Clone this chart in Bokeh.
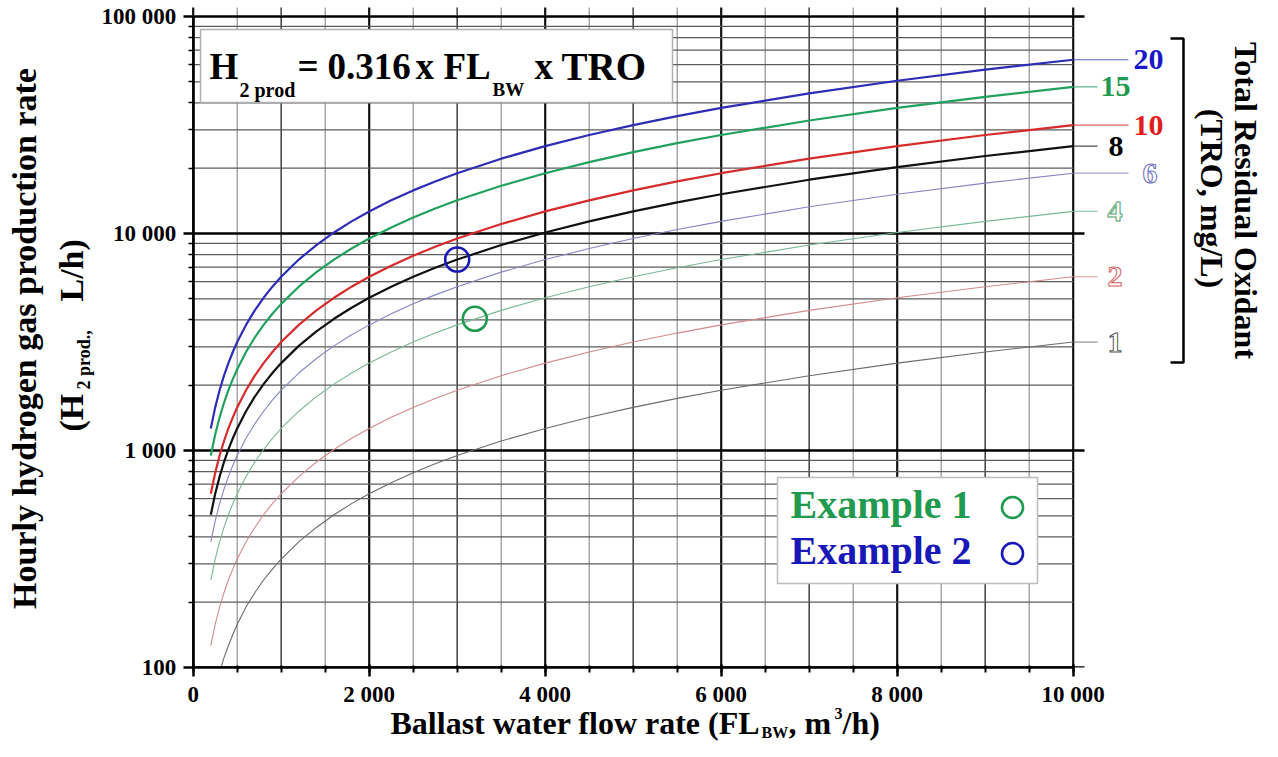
import math
from bokeh.plotting import figure
from bokeh.models import Range1d, FixedTicker, Label
from bokeh.embed import file_html
from bokeh.resources import INLINE

# ---------------- data ----------------
flow = [200, 250, 300, 350, 400, 450, 500, 600, 700, 800, 900, 1000, 1200, 1400,
        1600, 1800, 2000, 2250, 2500, 2750, 3000, 3500, 4000, 4500, 5000, 5500,
        6000, 7000, 8000, 9000, 10000]

tro_levels = [20, 15, 10, 8, 6, 4, 2, 1]
h2_tro20 = [1264, 1580, 1896, 2212, 2528, 2844, 3160, 3792, 4424, 5056, 5688, 6320,
            7584, 8848, 10112, 11376, 12640, 14220, 15800, 17380, 18960, 22120,
            25280, 28440, 31600, 34760, 37920, 44240, 50560, 56880, 63200]
h2_tro15 = [948, 1185, 1422, 1659, 1896, 2133, 2370, 2844, 3318, 3792, 4266, 4740,
            5688, 6636, 7584, 8532, 9480, 10665, 11850, 13035, 14220, 16590,
            18960, 21330, 23700, 26070, 28440, 33180, 37920, 42660, 47400]
h2_tro10 = [632, 790, 948, 1106, 1264, 1422, 1580, 1896, 2212, 2528, 2844, 3160,
            3792, 4424, 5056, 5688, 6320, 7110, 7900, 8690, 9480, 11060,
            12640, 14220, 15800, 17380, 18960, 22120, 25280, 28440, 31600]
h2_tro8 = [506, 632, 758, 885, 1011, 1138, 1264, 1517, 1770, 2022, 2275, 2528,
           3034, 3539, 4045, 4550, 5056, 5688, 6320, 6952, 7584, 8848,
           10112, 11376, 12640, 13904, 15168, 17696, 20224, 22752, 25280]
h2_tro6 = [379, 474, 569, 664, 758, 853, 948, 1138, 1327, 1517, 1706, 1896,
           2275, 2654, 3034, 3413, 3792, 4266, 4740, 5214, 5688, 6636,
           7584, 8532, 9480, 10428, 11376, 13272, 15168, 17064, 18960]
h2_tro4 = [253, 316, 379, 442, 506, 569, 632, 758, 885, 1011, 1138, 1264,
           1517, 1770, 2022, 2275, 2528, 2844, 3160, 3476, 3792, 4424,
           5056, 5688, 6320, 6952, 7584, 8848, 10112, 11376, 12640]
h2_tro2 = [126, 158, 190, 221, 253, 284, 316, 379, 442, 506, 569, 632,
           758, 885, 1011, 1138, 1264, 1422, 1580, 1738, 1896, 2212,
           2528, 2844, 3160, 3476, 3792, 4424, 5056, 5688, 6320]
h2_tro1 = [63, 79, 95, 111, 126, 142, 158, 190, 221, 253, 284, 316,
           379, 442, 506, 569, 632, 711, 790, 869, 948, 1106,
           1264, 1422, 1580, 1738, 1896, 2212, 2528, 2844, 3160]

ex_names = ["Example 1", "Example 2"]
ex_flow = [3200, 3000]
ex_h2 = [4045, 7584]

y_ticks = [100, 1000, 10000, 100000]
y_tick_labels = ["100", "1 000", "10 000", "100 000"]
x_ticks = [0, 2000, 4000, 6000, 8000, 10000]
x_tick_labels = ["0", "2 000", "4 000", "6 000", "8 000", "10 000"]

# ---------------- layout (pixel geometry of the canvas) ----------------
W, H = 1262, 741
X0 = 192.7                     # px of flow 0
PXX = 880 / 10000              # px per unit of flow
Y_TOP = 16                     # px of 100 000
Y_BOT = 667                    # px of 100
DEC = (Y_BOT - Y_TOP) / 3.0


def X(px):
    return (px - X0) / PXX


def Y(py):
    return 10 ** (5 - (py - Y_TOP) / DEC)


FONT = "Liberation Serif"

p = figure(width=W, height=H, x_range=Range1d(X(0), X(W)), y_range=Range1d(Y(H), Y(0)),
           y_axis_type="log", output_backend="svg", toolbar_location=None,
           min_border_left=0, min_border_right=0, min_border_top=0, min_border_bottom=0)
p.outline_line_color = None
p.grid.visible = False
p.background_fill_color = "white"
p.border_fill_color = "white"

# ---------------- axes ----------------
y_minor = [m * 10 ** e for e in range(2, 5) for m in range(2, 10)]
ya = p.yaxis[0]
ya.fixed_location = 0
ya.ticker = FixedTicker(ticks=y_ticks, minor_ticks=y_minor)
ya.major_label_overrides = {int(t): l for t, l in zip(y_ticks, y_tick_labels)}
ya.bounds = (100, 100000)
ya.axis_line_width = 2.5
ya.major_tick_out = 10
ya.major_tick_in = 0
ya.minor_tick_out = 5
ya.minor_tick_in = 0
ya.major_tick_line_width = 2.5
ya.minor_tick_line_width = 1.5
ya.major_label_standoff = 7
ya.major_label_text_font = FONT
ya.major_label_text_font_style = "bold"
ya.major_label_text_font_size = "23px"
ya.major_label_text_color = "black"

x_minor = list(range(0, 10001, 500))
xa = p.xaxis[0]
xa.fixed_location = 100
xa.ticker = FixedTicker(ticks=x_ticks, minor_ticks=x_minor)
xa.major_label_overrides = {int(t): l for t, l in zip(x_ticks, x_tick_labels)}
xa.bounds = (0, 10000)
xa.axis_line_width = 2.5
xa.major_tick_out = 9
xa.major_tick_in = 3
xa.minor_tick_out = 5
xa.minor_tick_in = 2
xa.major_tick_line_width = 2.5
xa.minor_tick_line_width = 2
xa.major_label_standoff = 5
xa.major_label_text_font = FONT
xa.major_label_text_font_style = "bold"
xa.major_label_text_font_size = "23px"
xa.major_label_text_color = "black"

# ---------------- grid ----------------
y_grid_top = Y(7)
xv_major = list(range(0, 10001, 2000))
xv_mid = list(range(1000, 10000, 2000))
xv_minor = list(range(500, 10000, 1000))
for xs, col, lw in [(xv_minor, "#9a9a9a", 1.3), (xv_mid, "#4a4a4a", 1.6), (xv_major, "#111111", 2.2)]:
    p.segment(x0=xs, y0=[100] * len(xs), x1=xs, y1=[y_grid_top] * len(xs), line_color=col, line_width=lw)

p.segment(x0=[0] * len(y_minor), y0=y_minor, x1=[10000] * len(y_minor), y1=y_minor,
          line_color="#5c5c5c", line_width=1.2)
p.segment(x0=[0] * len(y_ticks), y0=y_ticks, x1=[X(1084)] * len(y_ticks), y1=y_ticks,
          line_color="black", line_width=2.5)

# boxes
p.quad(left=[X(200)], right=[X(672)], top=[Y(29)], bottom=[Y(102)],
       fill_color="white", line_color="#b0b0b0", line_width=1.5)
p.quad(left=[X(777)], right=[X(1037)], top=[Y(477)], bottom=[Y(583)],
       fill_color="white", line_color="#bdbdbd", line_width=1.5)

# ---------------- TRO curves ----------------
series = [h2_tro20, h2_tro15, h2_tro10, h2_tro8, h2_tro6, h2_tro4, h2_tro2, h2_tro1]
line_cols = ["#2d2db5", "#22a05e", "#d62b2b", "#111111", "#8585c4", "#79b896", "#d48a8a", "#6b6b6b"]
line_w = [2.2, 2.2, 2.2, 2.2, 1.1, 1.1, 1.1, 1.1]
ext_end = [1128, 1097, 1128, 1097, 1128, 1097, 1097, 1097]
lab_x = [1133, 1100, 1133, 1108, 1142, 1107, 1107, 1107]
lab_cols = ["#1818c8", "#1f9a50", "#e01c1c", "#000000", "#6a6ac2", "#4fa474", "#d46262", "#5a5a5a"]
hollow = [False, False, False, False, True, True, True, True]

for lvl, ys, c, lw, ee, lx, lc, ho in zip(tro_levels, series, line_cols, line_w, ext_end,
                                         lab_x, lab_cols, hollow):
    p.line(flow, ys, line_color=c, line_width=lw)
    p.segment(x0=[flow[-1]], y0=[ys[-1]], x1=[X(ee)], y1=[ys[-1]],
              line_color=c, line_width=1.2, line_alpha=0.75)
    if ho:
        lab_ = Label(x=X(lx), y=ys[-1], text=str(lvl), text_font=FONT, text_font_style="bold",
                     text_font_size="30px", text_color="white", text_outline_color=lc,
                     text_align="left", text_baseline="middle")
    else:
        lab_ = Label(x=X(lx), y=ys[-1], text=str(lvl), text_font=FONT, text_font_style="bold",
                     text_font_size="30px", text_color=lc, text_align="left", text_baseline="middle")
    p.add_layout(lab_)

# mask: the plotting area ends at the 100 line
p.quad(left=[X(0)], right=[X(W)], top=[100], bottom=[Y(H)],
       fill_color="white", line_color=None)

# ---------------- examples ----------------
ex_cols = ["#1f9a4e", "#1818b8"]
p.scatter(x=ex_flow, y=ex_h2, marker="circle", size=24, fill_color=None,
          line_color=ex_cols, line_width=2.6)
p.scatter(x=[X(1012), X(1012)], y=[Y(507), Y(553)], marker="circle", size=21,
          fill_color=None, line_color=ex_cols, line_width=2.6)

# bracket
p.line(x=[X(1170), X(1183), X(1183), X(1170)], y=[Y(38), Y(38), Y(362), Y(362)],
       line_color="black", line_width=2.5)


def lab(px, py, text, size, align="left", angle=0.0, color="black"):
    # (px, py) is the middle of the text line
    p.add_layout(Label(x=X(px), y=Y(py), text=text, text_font=FONT, text_font_style="bold",
                       text_font_size=size, text_color=color, text_align=align,
                       text_baseline="middle", angle=angle))


# legend texts
for name, c, cy in zip(ex_names, ex_cols, [504, 550]):
    lab(790, cy, name, "40px", color=c)

# formula
lab(209, 66, "H", "37px")
lab(239, 89, "2 prod", "20px")
lab(297, 66, "=", "37px")
lab(327, 66, "0.316", "37px")
lab(415, 66, "x", "37px")
lab(443, 66, "FL", "37px")
lab(492, 89, "BW", "19px")
lab(534, 66, "x", "37px")
lab(561, 66, "TRO", "39px")

# right title
lab(1245, 200, "Total Residual Oxidant", "32px", align="center", angle=-math.pi / 2)
lab(1211, 198, "(TRO, mg/L)", "32px", align="center", angle=-math.pi / 2)

# y title
lab(24, 338, "Hourly hydrogen gas production rate", "34px", align="center", angle=math.pi / 2)
lab(71, 431, "(H", "34px", angle=math.pi / 2)
lab(83, 389, "2 prod.,", "18px", angle=math.pi / 2)
lab(71, 301, "L/h)", "34px", angle=math.pi / 2)

# x title
lab(390, 722, "Ballast water flow rate (FL", "32px")
lab(761, 732, "BW", "16px")
lab(788, 722, ", m", "32px")
lab(834, 713, "3", "16px")
lab(842, 722, "/h)", "32px")

open("out.html", "w").write(file_html(p, INLINE))
